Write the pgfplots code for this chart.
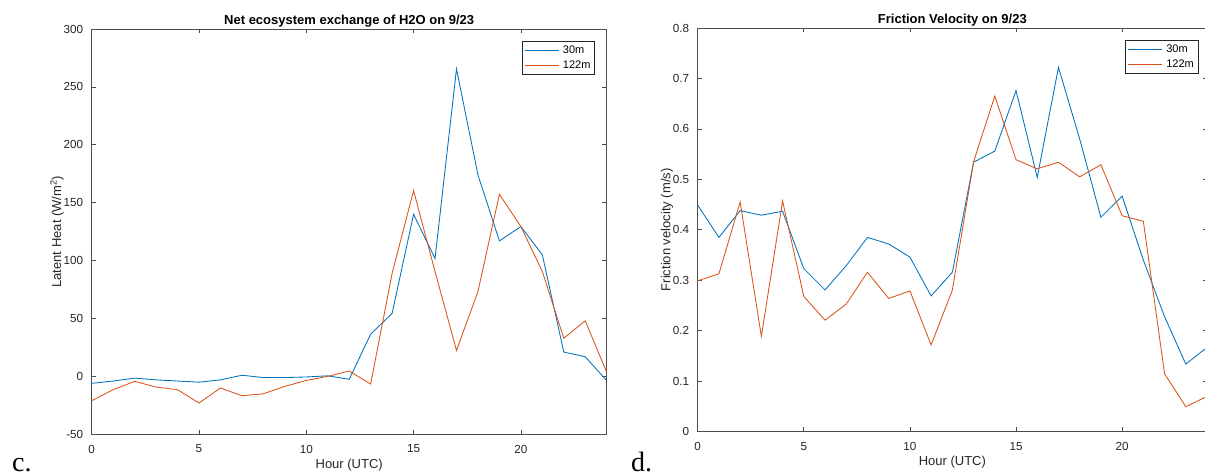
\documentclass[border=0pt]{standalone}
\usepackage{fontspec}
\setmainfont{Liberation Sans}
\newfontfamily\serifc{Liberation Serif}
\usepackage{pgfplots}
\pgfplotsset{compat=1.18}
\definecolor{mblue}{rgb}{0,0.447,0.741}
\definecolor{morange}{rgb}{0.85,0.325,0.098}
\definecolor{axgray}{rgb}{0.15,0.15,0.15}
\pgfplotsset{mystyle/.style={
  scale only axis, anchor=south west,
  xmin=0, xmax=24, xtick={0,5,10,15,20},
  tick align=inside, major tick length=4.5pt,
  axis line style={black!70, line width=0.9pt},
  every tick/.style={black!70, line width=0.7pt},
  tick label style={font=\fontsize{11.7}{13}\selectfont, text=axgray},
  xticklabel style={yshift=-7pt},
  yticklabel style={xshift=-5pt},
  /pgf/number format/assume math mode=true,
  label style={font=\fontsize{13}{15}\selectfont, text=axgray},
  xlabel style={yshift=1pt},
  ylabel style={yshift=-7pt},
  title style={font=\bfseries\fontsize{13}{15}\selectfont, yshift=-8pt},
  xlabel={Hour (UTC)},
  legend cell align=left,
  legend style={at={(1,1)}, anchor=north east, draw=axgray,
    font=\fontsize{11}{12}\selectfont, inner xsep=2pt, inner ysep=3pt, row sep=1pt,
    /tikz/every odd column/.append style={column sep=2pt}},
  legend image code/.code={\draw[mark repeat=2,mark phase=2,#1] plot coordinates {(0pt,0pt) (17pt,0pt) (34pt,0pt)};},
}}
\begin{document}
\begin{tikzpicture}[x=1pt,y=1pt]
\useasboundingbox (0,0) rectangle (1205,476);
\clip (0,0) rectangle (1205,476);
\begin{axis}[mystyle, at={(91.7pt,41.7pt)}, width=515pt, height=405.3pt,
  ymin=-50, ymax=300, ytick={-50,0,50,100,150,200,250,300},
  ylabel={Latent Heat (W/m\textsuperscript{2})},
  title={Net ecosystem exchange of H2O on 9/23},
  legend style={xshift=-12pt, yshift=-12pt}]
\addplot[mblue, line width=0.85pt] coordinates {(0,-6) (1,-4) (2,-1.5) (3,-3) (4,-4) (5,-5) (6,-3) (7,1) (8,-1) (9,-1) (10,-0.5) (11,0.5) (12,-2.5) (13,36.5) (14,54.4) (15,140) (16,101.8) (17,265.5) (18,174) (19,117) (20,129.4) (21,105) (22,21) (23,17) (24,-3.7)};
\addlegendentry{30m}
\addplot[morange, line width=0.85pt] coordinates {(0,-21) (1,-11.5) (2,-4.3) (3,-9.2) (4,-11.5) (5,-23) (6,-10) (7,-16.7) (8,-15) (9,-8.6) (10,-3.5) (11,0) (12,4.6) (13,-6.6) (14,89) (15,160.5) (16,90.6) (17,22.4) (18,73.3) (19,157.3) (20,129.4) (21,90.6) (22,33) (23,48) (24,3.5)};
\addlegendentry{122m}
\end{axis}
\begin{axis}[mystyle, at={(697.7pt,44.3pt)}, width=509.3pt, height=403.7pt,
  ymin=0, ymax=0.8, ytick={0,0.1,0.2,0.3,0.4,0.5,0.6,0.7,0.8},
  yticklabels={0,0.1,0.2,0.3,0.4,0.5,0.6,0.7,0.8},
  ylabel={Friction velocity (m/s)},
  title={Friction Velocity on 9/23},
  legend style={xshift=-9pt, yshift=-12pt}]
\addplot[mblue, line width=0.85pt] coordinates {(0,0.449) (1,0.385) (2,0.438) (3,0.429) (4,0.437) (5,0.323) (6,0.281) (7,0.329) (8,0.385) (9,0.372) (10,0.346) (11,0.269) (12,0.316) (13,0.534) (14,0.556) (15,0.676) (16,0.504) (17,0.722) (18,0.58) (19,0.425) (20,0.467) (21,0.34) (22,0.228) (23,0.134) (24,0.167)};
\addlegendentry{30m}
\addplot[morange, line width=0.85pt] coordinates {(0,0.299) (1,0.313) (2,0.455) (3,0.189) (4,0.457) (5,0.268) (6,0.221) (7,0.253) (8,0.316) (9,0.264) (10,0.279) (11,0.172) (12,0.2805) (13,0.535) (14,0.665) (15,0.539) (16,0.521) (17,0.534) (18,0.505) (19,0.529) (20,0.428) (21,0.417) (22,0.115) (23,0.0495) (24,0.07)};
\addlegendentry{122m}
\end{axis}
\node[anchor=base west, inner sep=0pt, font=\serifc\fontsize{28}{30}\selectfont] at (12,4) {c.};
\node[anchor=base west, inner sep=0pt, font=\serifc\fontsize{28}{30}\selectfont] at (631,4) {d.};
\end{tikzpicture}
\end{document}
